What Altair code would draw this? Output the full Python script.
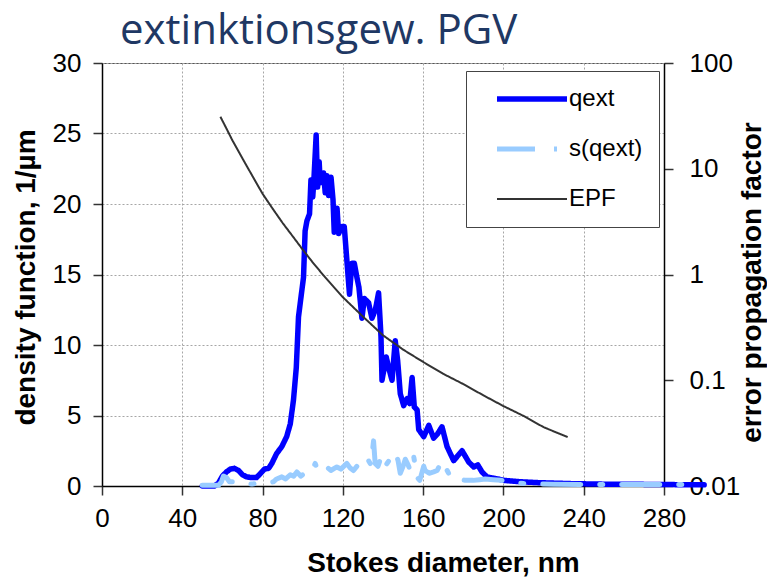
import altair as alt
import pandas as pd

# ---- data ----
series_names = ["qext", "s(qext)", "EPF"]
series_colors = ["#0000ff", "#99ccff", "#333333"]

qext_d = [50, 56, 58, 60, 62, 64, 66, 68, 70, 72, 74, 77, 79, 81, 83, 84.6, 87, 89.6, 92, 93.8,
          95.4, 96.8, 97.9, 100.4, 101.2, 102.1, 103.4, 104.1, 105, 105.6, 106.7, 107.4, 108.2, 108.7,
          109.6, 110.4, 111.2, 112.1, 112.9, 114.1, 115.1, 115.7, 117.1, 117.9, 119.5, 120.7, 122, 123.3,
          124.5, 125.7, 127, 128, 129.5, 130.7, 132.8, 134.5, 136.2, 137.8, 139, 139.5, 141.6, 142.8,
          144.5, 146.1, 147.3, 148.6, 150.3, 152, 153.3, 154.5, 155.6, 157, 157.8, 160.3, 162.8, 165.2,
          167.2, 169.4, 171.9, 175.2, 179.4, 182.7, 185.2, 187.2, 189.3, 191.8, 196.9, 200.2, 208.5,
          217, 233, 250, 266, 283, 300]
qext_v = [0, 0, 0.2, 0.7, 1.0, 1.2, 1.25, 1.1, 0.8, 0.65, 0.6, 0.6, 0.9, 1.2, 1.25, 1.6, 2.3, 2.8, 3.5, 4.4,
          6.1, 8.4, 12.0, 14.8, 18.1, 18.8, 19.3, 21.7, 20.5, 21.8, 24.9, 21.2, 23.0, 21.5,
          21.7, 22.2, 20.8, 22.0, 20.6, 21.9, 20.3, 18.0, 19.7, 17.9, 18.4, 18.4, 16.0, 13.6,
          15.8, 15.8, 14.8, 14.1, 11.9, 13.3, 13.0, 11.9, 12.5, 13.7, 10.6, 7.5, 9.15, 8.4,
          7.5, 10.3, 8.9, 6.55, 5.7, 6.2, 5.85, 7.7, 5.6, 5.4, 4.0, 3.5, 4.3, 3.4,
          3.7, 4.2, 2.8, 1.8, 2.5, 1.7, 1.35, 1.5, 1.0, 0.64, 0.5, 0.4, 0.3,
          0.24, 0.17, 0.13, 0.12, 0.1, 0.08]

sq_d = [50, 58, 59.5, 60.5, 62, 63.5, 65, 67, 70, 75, 80, 83, 85.4, 87, 89.6, 91.5, 93.8, 95.5, 97.1, 99,
        101, 103, 105, 106.2, 107.9, 110, 112, 114, 117, 119, 122, 123.5, 125.3, 127, 128.6, 130.5,
        132.8, 134, 135.3, 136.1, 137.5, 138.7, 140.5, 142, 144, 146.1, 147.5, 148.6, 150, 151.1, 152.5,
        153.6, 155.3, 157, 158.3, 160.3, 161, 163, 165.2, 167, 169.4, 170.5, 172.7, 175.2, 178, 181,
        185, 188, 191, 195, 199, 204, 208, 215, 225, 240, 260, 275, 290]
sq_v = [0.05, 0.05, 0.3, 0.7, 0.6, 0.3, 0.3, 0.2, 0.15, 0.15, 0.2, 0.2, 0.3, 0.5, 0.65, 0.5, 0.8, 0.7, 1.0, 0.7,
        0.9, 0.8, 1.2, 1.6, 1.0, 1.2, 1.35, 1.1, 1.35, 1.2, 1.6, 1.3, 1.1, 1.4, 1.6, 1.3,
        1.8, 1.5, 3.2, 1.6, 1.4, 1.9, 1.2, 1.6, 2.0, 2.4, 1.8, 0.9, 1.4, 1.9, 1.5,
        1.1, 2.1, 0.6, 0.4, 1.4, 1.1, 0.9, 1.0, 1.1, 1.8, 1.5, 0.9, 0.45, 0.5, 0.4,
        0.4, 0.45, 0.5, 0.45, 0.4, 0.25, 0.2, 0.15, 0.12, 0.1, 0.1, 0.1, 0.1]

epf_d = [59, 62, 65, 70, 75, 80, 85, 90, 95, 100, 105, 110, 115, 120, 130, 140, 150, 160, 170, 180,
         190, 200, 210, 220, 232]
epf_v = [31, 24, 18.5, 12.5, 8.5, 5.8, 4.2, 3.07, 2.3, 1.72, 1.3, 1.0, 0.78, 0.61, 0.40, 0.266, 0.195,
         0.149, 0.115, 0.092, 0.072, 0.057, 0.046, 0.036, 0.029]

x_ticks = [0, 40, 80, 120, 160, 200, 240, 280]
y_left_ticks = [0, 5, 10, 15, 20, 25, 30]
y_right_ticks = [0.01, 0.1, 1, 10, 100]

# ---- tables ----
df_left = pd.DataFrame({
    "d": qext_d + sq_d,
    "v": qext_v + sq_v,
    "series": ["qext"] * len(qext_d) + ["s(qext)"] * len(sq_d),
    "o": list(range(len(qext_d))) + list(range(len(sq_d))),
})
df_epf = pd.DataFrame({"d": epf_d, "v": epf_v, "series": "EPF", "o": list(range(len(epf_d)))})

PW, PH = 562, 423

leg = alt.Legend(title=None)
color = alt.Color("series:N", scale=alt.Scale(domain=series_names, range=series_colors), legend=leg)
dash = alt.StrokeDash("series:N", scale=alt.Scale(domain=series_names,
                                                  range=[[1, 0], [38, 19, 3, 19], [1, 0]]), legend=leg)
width = alt.StrokeWidth("series:N", scale=alt.Scale(type="ordinal", domain=series_names, range=[5.5, 5, 2]),
                        legend=leg)

x_enc = alt.X("d:Q", scale=alt.Scale(domain=[0, 280], nice=False, zero=False),
              axis=alt.Axis(values=x_ticks, title="Stokes diameter, nm", grid=True, labelFlush=False,
                            titleX=341, titleY=77, titleAlign="center", titleBaseline="middle",
                            tickSize=9, labelPadding=10))

left = alt.Chart(df_left).mark_line(clip=False, strokeJoin="round", strokeCap="round").encode(
    x=x_enc,
    y=alt.Y("v:Q", scale=alt.Scale(domain=[0, 30], nice=False),
            axis=alt.Axis(values=y_left_ticks, orient="left", grid=True, labelFlush=False,
                          title="density function, 1/µm", titleAngle=270, titleX=-76, titleY=214,
                          titleAlign="center", titleBaseline="middle", tickSize=9, labelPadding=12)),
    color=color, strokeDash=dash, strokeWidth=width, order="o:Q",
)

right = alt.Chart(df_epf).mark_line(clip=False).encode(
    x=x_enc,
    y=alt.Y("v:Q", scale=alt.Scale(type="log", domain=[0.01, 100], nice=False),
            axis=alt.Axis(values=y_right_ticks, orient="right", grid=False, format="~g", labelFlush=False,
                          title="error propagation factor", titleAngle=270, titleX=88, titleY=219,
                          titleAlign="center", titleBaseline="middle", tickSize=9, labelPadding=16)),
    color=color, strokeDash=dash, strokeWidth=width, order="o:Q",
)

chart = alt.layer(left, right).resolve_scale(y="independent").properties(
    width=PW, height=PH,
    autosize=alt.AutoSizeParams(type="none"),
    padding={"left": 102, "top": 63, "right": 103, "bottom": 94},
    title=alt.Title("extinktionsgew. PGV", anchor="start", frame="group", dx=18, font="Open Sans",
                    fontSize=42, fontWeight="normal", color="#1f3864", offset=-3),
).configure_view(stroke="#555555", strokeWidth=1).configure_axis(
    labelFont="Liberation Sans", labelFontSize=26, labelColor="#000000",
    titleFont="Liberation Sans", titleFontSize=28, titleFontWeight="bold", titleColor="#000000",
    domainColor="#000000", domainWidth=1.5, tickColor="#333333", tickWidth=1.5,
    gridColor="#a6a6a6", gridDash=[2, 2], gridWidth=1,
).configure_legend(
    orient="none", legendX=364, legendY=8, padding=16,
    strokeColor="#444444", fillColor="#ffffff",
    symbolType="M-7,0H7", symbolSize=100, symbolOffset=38,
    labelFont="Liberation Sans", labelFontSize=24, labelColor="#000000", labelOffset=25,
    rowPadding=26,
)

chart.save("out.html", embed_options={"renderer": "svg", "actions": False})
